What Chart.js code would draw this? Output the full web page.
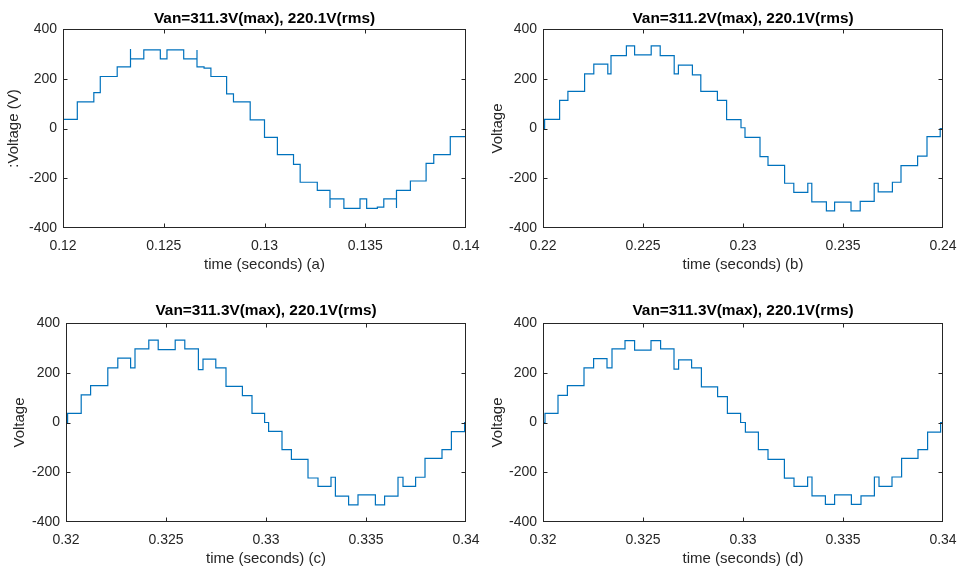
<!DOCTYPE html>
<html>
<head>
<meta charset="utf-8">
<script src="https://cdn.jsdelivr.net/npm/chart.js@4.4.1/dist/chart.umd.min.js"></script>
<style>
  html, body { margin: 0; padding: 0; background: #ffffff; }
  #wrap { position: relative; width: 959px; height: 571px; background: #ffffff; overflow: hidden; }
  canvas { position: absolute; }
</style>
</head>
<body>
<div id="wrap">
  <canvas id="cA" width="480" height="285" style="left:0px;top:0px;"></canvas>
  <canvas id="cB" width="479" height="285" style="left:480px;top:0px;"></canvas>
  <canvas id="cC" width="480" height="277" style="left:0px;top:294px;"></canvas>
  <canvas id="cD" width="479" height="277" style="left:480px;top:294px;"></canvas>
</div>
<script>
// ---------- data ----------
const timeA = [0.12, 0.12, 0.12071, 0.12153, 0.12185, 0.12269, 0.12335, 0.12335, 0.12401, 0.12483,
               0.12516, 0.12599, 0.12665, 0.12665, 0.127, 0.12734, 0.12812, 0.12846, 0.12929, 0.13,
               0.13064, 0.13144, 0.13177, 0.13262, 0.13325, 0.13325, 0.13394, 0.13474, 0.13507, 0.1356,
               0.13592, 0.13655, 0.13655, 0.13724, 0.13802, 0.1384, 0.13922, 0.14];
const voltA = [-33, 37, 107, 144, 209, 248, 320, 280, 316, 280,
               316, 280, 316, 248, 243, 209, 139, 107, 35, -36,
               -105, -144, -216, -249, -320, -283, -321, -283, -321, -316,
               -283, -320, -249, -211, -140, -105, -33, -33];

const timeB = [0.22, 0.22008, 0.22083, 0.221245, 0.22208, 0.22254, 0.22324, 0.2234, 0.22417, 0.22458,
               0.22541, 0.22586, 0.22656, 0.22677, 0.22747, 0.22789, 0.22872, 0.22918, 0.2299, 0.2301,
               0.23085, 0.23125, 0.23208, 0.23254, 0.23324, 0.23344, 0.23417, 0.23458, 0.2354, 0.23586,
               0.23656, 0.23676, 0.23747, 0.2379, 0.23873, 0.2392, 0.23986, 0.24];
const voltB = [0, 37, 113, 149, 220, 259, 220, 293, 332, 296,
               332, 293, 220, 255, 216, 149, 113, 36, 3, -36,
               -113, -148, -220, -257, -220, -295, -331, -296, -331, -293,
               -220, -255, -216, -149, -111, -33, 0, 0];

const timeC = [0.32, 0.32008, 0.32076, 0.32123, 0.32209, 0.32259, 0.32323, 0.32345, 0.32414, 0.32461,
               0.32546, 0.32594, 0.32662, 0.32685, 0.32749, 0.328, 0.32882, 0.3293, 0.32993, 0.33013,
               0.3308, 0.33127, 0.3321, 0.3326, 0.33325, 0.33347, 0.33413, 0.3346, 0.33547, 0.33593,
               0.3366, 0.33685, 0.33748, 0.33795, 0.3388, 0.33927, 0.33993, 0.34];
const voltC = [0, 37, 111, 148, 220, 259, 220, 296, 331, 293,
               331, 296, 213, 255, 220, 145, 108, 37, 0, -36,
               -109, -148, -223, -257, -220, -296, -331, -291, -331, -296,
               -220, -257, -220, -144, -109, -37, 0, 0];

const timeD = [0.32, 0.3201, 0.32075, 0.32122, 0.32205, 0.32253, 0.3232, 0.32345, 0.3241, 0.32458,
               0.3254, 0.32588, 0.32655, 0.32678, 0.32743, 0.32792, 0.32873, 0.32922, 0.32988, 0.33012,
               0.33077, 0.33125, 0.33207, 0.33255, 0.33323, 0.33345, 0.33412, 0.33458, 0.33542, 0.3359,
               0.33657, 0.3368, 0.33745, 0.33793, 0.33875, 0.33923, 0.33988, 0.34];
const voltD = [0, 37, 109, 148, 220, 257, 220, 296, 329, 291,
               329, 296, 215, 252, 220, 143, 104, 37, 0, -39,
               -109, -148, -224, -257, -219, -295, -329, -291, -329, -295,
               -219, -257, -219, -144, -109, -39, 0, 0];

const xTicksA = [0.12, 0.125, 0.13, 0.135, 0.14];
const xTickLabelsA = ['0.12', '0.125', '0.13', '0.135', '0.14'];
const xTicksB = [0.22, 0.225, 0.23, 0.235, 0.24];
const xTickLabelsB = ['0.22', '0.225', '0.23', '0.235', '0.24'];
const xTicksCD = [0.32, 0.325, 0.33, 0.335, 0.34];
const xTickLabelsCD = ['0.32', '0.325', '0.33', '0.335', '0.34'];
const yTicks = [-400, -200, 0, 200, 400];
const yTickLabels = ['-400', '-200', '0', '200', '400'];

const titles = ['Van=311.3V(max), 220.1V(rms)', 'Van=311.2V(max), 220.1V(rms)',
                'Van=311.3V(max), 220.1V(rms)', 'Van=311.3V(max), 220.1V(rms)'];
const xTitles = ['time (seconds) (a)', 'time (seconds) (b)', 'time (seconds) (c)', 'time (seconds) (d)'];
const yTitles = [':Voltage (V)', 'Voltage', 'Voltage', 'Voltage'];

// ---------- drawing ----------
const FONT = '"Liberation Sans", Arial, Helvetica, sans-serif';
const AXC = '#262626';

const boxPlugin = {
  id: 'matlabBox',
  afterDatasetsDraw(chart) {
    const ctx = chart.ctx, a = chart.chartArea;
    const xs = chart.scales.x, ys = chart.scales.y;
    const L = Math.round(a.left) + 0.5, R = Math.round(a.right) - 0.5;
    const T = Math.round(a.top) + 0.5, B = Math.round(a.bottom) - 0.5;
    const tl = 4;
    ctx.save();
    ctx.strokeStyle = AXC;
    ctx.lineWidth = 1;
    ctx.beginPath();
    xs.ticks.forEach((t, i) => {
      if (i === 0 || i === xs.ticks.length - 1) return;
      const px = Math.round(xs.getPixelForValue(t.value)) + 0.5;
      ctx.moveTo(px, B); ctx.lineTo(px, B - tl);
      ctx.moveTo(px, T); ctx.lineTo(px, T + tl);
    });
    ys.ticks.forEach((t, i) => {
      if (i === 0 || i === ys.ticks.length - 1) return;
      const py = Math.round(ys.getPixelForValue(t.value)) + 0.5;
      ctx.moveTo(L, py); ctx.lineTo(L + tl, py);
      ctx.moveTo(R, py); ctx.lineTo(R - tl, py);
    });
    ctx.stroke();
    ctx.strokeRect(L, T, R - L, B - T);
    ctx.restore();
  }
};

function makeChart(id, times, volts, xT, xL, idx, cfg) {
  const pts = times.map((t, i) => ({ x: t, y: volts[i] }));
  return new Chart(document.getElementById(id), {
    type: 'line',
    data: { datasets: [{
      data: pts, stepped: true, borderColor: '#0072BD', borderWidth: 1.2,
      pointRadius: 0, fill: false, tension: 0
    }]},
    options: {
      responsive: false, animation: false, devicePixelRatio: 1,
      layout: { padding: { left: 0, right: cfg.right, top: 0, bottom: 0 } },
      plugins: {
        legend: { display: false }, tooltip: { enabled: false },
        title: { display: true, text: titles[idx], color: '#000000', fullSize: false,
                 font: { family: FONT, size: 15.4, weight: 'bold', lineHeight: 1.17 },
                 padding: { top: cfg.tTop, bottom: cfg.tBot } }
      },
      scales: {
        x: {
          type: 'linear', min: xT[0], max: xT[xT.length - 1],
          afterBuildTicks: s => { s.ticks = xT.map(v => ({ value: v })); },
          afterFit: s => { s.height = cfg.xH; s.paddingLeft = 0; s.paddingRight = 0; },
          ticks: { callback: (v, i) => xL[i], color: AXC, padding: 10, maxRotation: 0, autoSkip: false,
                   font: { family: FONT, size: 14, lineHeight: 1.2 } },
          grid: { display: false, drawTicks: false },
          border: { display: false },
          title: { display: true, text: xTitles[idx], color: AXC,
                   font: { family: FONT, size: 15, lineHeight: 1.2 },
                   padding: { top: 0, bottom: cfg.xtBot } }
        },
        y: {
          type: 'linear', min: -400, max: 400,
          afterBuildTicks: s => { s.ticks = yTicks.map(v => ({ value: v })); },
          afterFit: s => { s.width = cfg.yW; s.paddingTop = 0; s.paddingBottom = 0; },
          ticks: { callback: (v, i) => yTickLabels[i], color: AXC, padding: 6, autoSkip: false,
                   font: { family: FONT, size: 14, lineHeight: 1.2 } },
          grid: { display: false, drawTicks: false },
          border: { display: false },
          title: { display: true, text: yTitles[idx], color: AXC,
                   font: { family: FONT, size: 15, lineHeight: 1.2 },
                   padding: { top: cfg.ytTop, bottom: 0 } }
        }
      }
    },
    plugins: [boxPlugin]
  });
}

makeChart('cA', timeA, voltA, xTicksA, xTickLabelsA, 0, { right: 14, tTop: 10, tBot: 1, xH: 57, xtBot: 11, yW: 63, ytTop: 5 });
makeChart('cB', timeB, voltB, xTicksB, xTickLabelsB, 1, { right: 16, tTop: 10, tBot: 1, xH: 57, xtBot: 11, yW: 63, ytTop: 9 });
makeChart('cC', timeC, voltC, xTicksCD, xTickLabelsCD, 2, { right: 14, tTop: 8, tBot: 3, xH: 49, xtBot: 3, yW: 66, ytTop: 11 });
makeChart('cD', timeD, voltD, xTicksCD, xTickLabelsCD, 3, { right: 16, tTop: 8, tBot: 3, xH: 49, xtBot: 3, yW: 63, ytTop: 9 });
</script>
</body>
</html>
